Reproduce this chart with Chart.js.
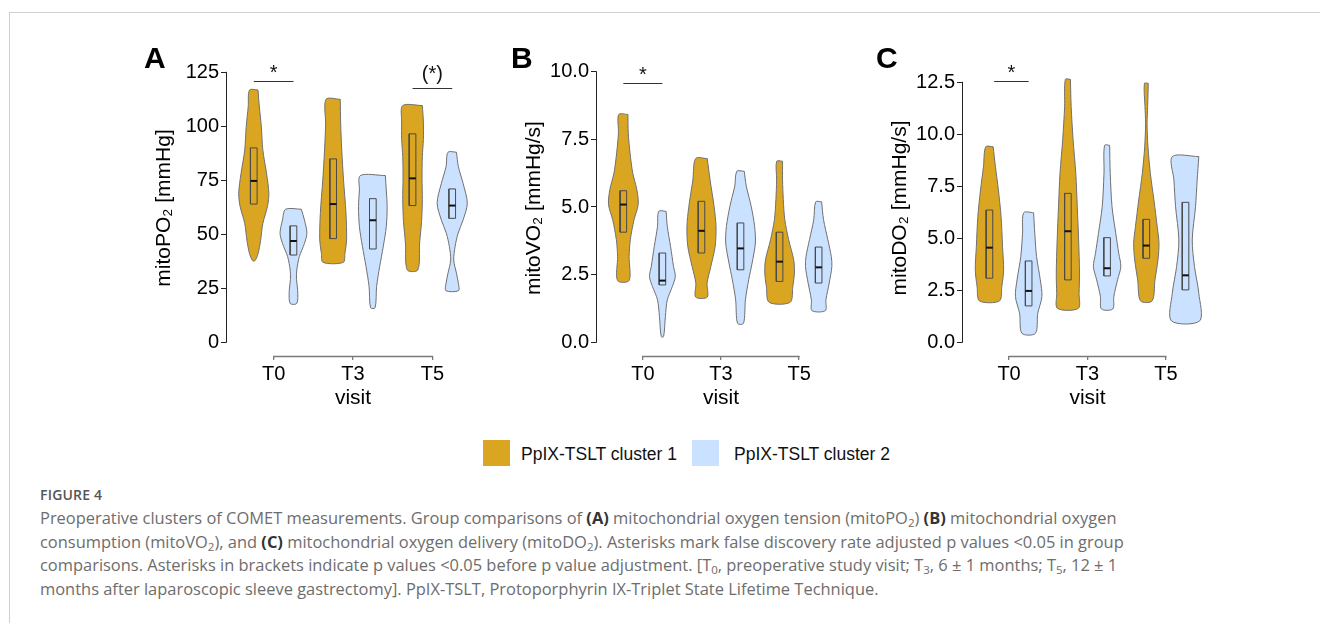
<!DOCTYPE html>
<html>
<head>
<meta charset="utf-8">
<script src="https://cdn.jsdelivr.net/npm/chart.js@4.4.1/dist/chart.umd.min.js"></script>
<style>
html,body{margin:0;padding:0;background:#fff;}
body{width:1320px;height:623px;position:relative;overflow:hidden;font-family:"Liberation Sans",Arial,sans-serif;}
.frame-top{position:absolute;left:9px;top:12px;width:1311px;height:1px;background:#cfcfcf;}
.frame-left{position:absolute;left:9px;top:12px;width:1px;height:611px;background:#cfcfcf;}
.panel{position:absolute;}
.letter{position:absolute;font-weight:bold;font-size:30px;line-height:30px;color:#000;}
.lg-box{position:absolute;width:27px;height:26px;}
.lg-txt{position:absolute;font-size:17.5px;line-height:26px;height:26px;color:#111;white-space:nowrap;}
.cap{position:absolute;left:40px;font-family:"Open Sans",sans-serif;white-space:nowrap;}
.cap-title{font-size:14px;font-weight:600;line-height:20px;color:#555;letter-spacing:0.2px;}
.cap-line{font-size:16.45px;line-height:24px;color:#6d6d6d;}
.cap-line b{color:#333;font-weight:700;}
.cap-line sub{font-size:0.7em;line-height:0;vertical-align:-0.25em;}
</style>
</head>
<body>
<div class="frame-top"></div>
<div class="frame-left"></div>

<canvas id="panelA" class="panel" width="360" height="380" style="left:130px;top:40px;"></canvas>
<canvas id="panelB" class="panel" width="356" height="380" style="left:500px;top:40px;"></canvas>
<canvas id="panelC" class="panel" width="357" height="380" style="left:866px;top:40px;"></canvas>

<div class="letter" style="left:144px;top:43px;">A</div>
<div class="letter" style="left:511px;top:43px;">B</div>
<div class="letter" style="left:876px;top:43px;">C</div>

<div id="legend"></div>

<div class="cap cap-title" style="top:485px;">FIGURE 4</div>
<div class="cap cap-line" style="top:506px;">Preoperative clusters of COMET measurements. Group comparisons of <b>(A)</b> mitochondrial oxygen tension (mitoPO<sub>2</sub>) <b>(B)</b> mitochondrial oxygen</div>
<div class="cap cap-line" style="top:530px;">consumption (mitoVO<sub>2</sub>), and <b>(C)</b> mitochondrial oxygen delivery (mitoDO<sub>2</sub>). Asterisks mark false discovery rate adjusted p values &lt;0.05 in group</div>
<div class="cap cap-line" style="top:553px;">comparisons. Asterisks in brackets indicate p values &lt;0.05 before p value adjustment. [T<sub>0</sub>, preoperative study visit; T<sub>3</sub>, 6 ± 1 months; T<sub>5</sub>, 12 ± 1</div>
<div class="cap cap-line" style="top:577px;">months after laparoscopic sleeve gastrectomy]. PpIX-TSLT, Protoporphyrin IX-Triplet State Lifetime Technique.</div>

<script>
// ---------------- DATA ----------------
const visits = ['T0', 'T3', 'T5'];
const clusters = ['PpIX-TSLT cluster 1', 'PpIX-TSLT cluster 2'];
const clusterColors = ['#DAA520', '#CAE1FF'];

// Panel A: mitoPO2 [mmHg]
const yTicksA = [0, 25, 50, 75, 100, 125];
const yTickLabelsA = ['0', '25', '50', '75', '100', '125'];
// violin outlines: [value, relative half-width]
const violinA_c1_T0 = [[116.8,.28],[109,.37],[100,.5],[89,.6],[78,.85],[69,1.0],[63,.91],[55,.6],[47,.45],[41,.28],[37.8,.08]];
const violinA_c1_T3 = [[112.5,.47],[101,.5],[89,.57],[75,.69],[59.7,.85],[47.4,.89],[41.2,.78],[37,.67]];
const violinA_c1_T5 = [[109.6,.65],[102,.72],[94,.72],[86,.65],[76,.63],[66,.65],[56,.6],[46,.47],[33.5,.35]];
const violinA_c2_T0 = [[61.6,.52],[56.6,.73],[50.5,.89],[45.8,.73],[39.7,.39],[33.5,.22],[29,.2],[24,.28],[18,.22]];
const violinA_c2_T3 = [[77.2,.83],[70.5,.89],[62.8,.95],[53.5,.89],[44.3,.69],[35,.45],[25.8,.25],[16,.15]];
const violinA_c2_T5 = [[88,.28],[81.3,.41],[73.6,.72],[64.4,1.0],[56.6,.72],[50.5,.39],[44.3,.19],[38.1,.1],[32,.28],[27.3,.41],[23.9,.42]];
const q1A_c1 = [64, 48, 63.3],   medA_c1 = [74.7, 64, 75.9],  q3A_c1 = [90, 84.9, 96.5];
const q1A_c2 = [40.4, 43.2, 57.4], medA_c2 = [46.9, 56.5, 63.3], q3A_c2 = [53.9, 66.5, 71];
const sigA_x1 = [0.75, 2.75], sigA_x2 = [1.25, 3.25], sigA_y = [120.6, 117.6], sigA_label = ['*', '(*)'];

// Panel B: mitoVO2 [mmHg/s]
const yTicksB = [0, 2.5, 5, 7.5, 10];
const yTickLabelsB = ['0.0', '2.5', '5.0', '7.5', '10.0'];
const violinB_c1_T0 = [[8.42,.31],[7.74,.33],[7.0,.45],[6.26,.63],[5.64,.91],[5.09,1.0],[4.53,.72],[3.79,.47],[3.17,.39],[2.28,.39]];
const violinB_c1_T3 = [[6.79,.39],[6.0,.58],[5.02,.85],[4.28,.98],[3.54,.92],[2.8,.63],[2.19,.38],[1.67,.39]];
const violinB_c1_T5 = [[6.69,.2],[6.0,.2],[5.27,.25],[4.53,.35],[3.79,.61],[3.05,.95],[2.56,1.0],[2.06,.89],[1.48,.71]];
const violinB_c2_T0 = [[4.84,.25],[4.28,.33],[3.54,.55],[2.8,.75],[2.43,.87],[2.06,.67],[1.57,.33],[0.95,.2],[0.21,.08]];
const violinB_c2_T3 = [[6.32,.25],[5.77,.39],[5.02,.72],[4.28,.95],[3.67,1.0],[2.93,.78],[2.31,.55],[1.57,.33],[0.7,.2]];
const violinB_c2_T5 = [[5.19,.2],[4.53,.33],[3.79,.62],[3.17,.85],[2.8,.89],[2.19,.71],[1.57,.49],[1.17,.45]];
const q1B_c1 = [4.07, 3.3, 2.25], medB_c1 = [5.09, 4.12, 2.98], q3B_c1 = [5.6, 5.21, 4.07];
const q1B_c2 = [2.12, 2.68, 2.19], medB_c2 = [2.28, 3.47, 2.77], q3B_c2 = [3.3, 4.41, 3.52];
const sigB_x1 = [0.75], sigB_x2 = [1.25], sigB_y = [9.57], sigB_label = ['*'];

// Panel C: mitoDO2 [mmHg/s]
const yTicksC = [0, 2.5, 5, 7.5, 10, 12.5];
const yTickLabelsC = ['0.0', '2.5', '5.0', '7.5', '10.0', '12.5'];
const violinC_c1_T0 = [[9.4,.25],[8.45,.4],[7.32,.6],[6.04,.78],[4.6,.88],[3.48,.95],[2.68,.83],[1.99,.67]];
const violinC_c1_T3 = [[12.64,.17],[11.33,.22],[9.73,.35],[8.12,.53],[6.52,.63],[4.92,.72],[3.32,.78],[2.36,.75],[1.63,.7]];
const violinC_c1_T5 = [[12.45,.13],[11.33,.09],[10.53,.05],[9.4,.11],[8.12,.27],[6.84,.51],[5.56,.73],[4.76,.85],[3.96,.78],[3.0,.58],[1.99,.39]];
const violinC_c2_T0 = [[6.23,.33],[5.24,.41],[4.12,.53],[3.0,.78],[2.2,.89],[1.39,.61],[0.43,.45]];
const violinC_c2_T3 = [[9.47,.17],[8.12,.21],[6.52,.33],[5.24,.58],[4.28,.78],[3.64,.92],[3.0,.7],[2.2,.45],[1.6,.38]];
const violinC_c2_T5 = [[8.93,.89],[7.8,.78],[6.52,.67],[4.92,.45],[3.64,.6],[2.36,.89],[1.03,.95]];
const q1C_c1 = [3.08, 3.0, 4.04], medC_c1 = [4.55, 5.34, 4.65], q3C_c1 = [6.36, 7.16, 5.91];
const q1C_c2 = [1.75, 3.19, 2.52], medC_c2 = [2.47, 3.56, 3.22], q3C_c2 = [3.91, 5.03, 6.73];
const sigC_x1 = [0.81], sigC_x2 = [1.25], sigC_y = [12.53], sigC_label = ['*'];

// ---------------- STYLE ----------------
const FONT = '"Liberation Sans", Arial, Helvetica, sans-serif';
Chart.defaults.font.family = FONT;
const groupOffset = 0.25;
const violinHalfMax = 0.19;
const boxHalf = 0.042;

function violinPolygon(profile, center) {
  const right = profile.map(([v, w]) => ({x: center + w * violinHalfMax, y: v}));
  const left = profile.slice().reverse().map(([v, w]) => ({x: center - w * violinHalfMax, y: v}));
  return right.concat(left, [right[0]]);
}

function alignPx(p, w) { return Math.round(p - w / 2) + w / 2; }

const rAxisPlugin = {
  id: 'rAxis',
  afterDraw(chart, args, opts) {
    const {ctx, chartArea, scales: {x, y}} = chart;
    ctx.save();
    // y axis line between first and last tick
    const yx = alignPx(chartArea.left, 1);
    ctx.strokeStyle = '#222';
    ctx.lineWidth = 1;
    ctx.beginPath();
    ctx.moveTo(yx, y.getPixelForValue(opts.yTicks[0]) + 0.5);
    ctx.lineTo(yx, y.getPixelForValue(opts.yTicks[opts.yTicks.length - 1]) - 0.5);
    ctx.stroke();
    // x axis line between first and last tick
    const xy = alignPx(chartArea.bottom, 1);
    ctx.strokeStyle = '#7a7a7a';
    ctx.lineWidth = 1.3;
    ctx.beginPath();
    ctx.moveTo(x.getPixelForValue(1) - 0.5, xy);
    ctx.lineTo(x.getPixelForValue(visits.length) + 0.5, xy);
    ctx.stroke();
    // significance brackets
    ctx.strokeStyle = '#333';
    ctx.lineWidth = 1.2;
    ctx.fillStyle = '#111';
    ctx.font = '20px ' + FONT;
    ctx.textAlign = 'center';
    ctx.textBaseline = 'alphabetic';
    opts.sigY.forEach((v, i) => {
      const py = alignPx(y.getPixelForValue(v), 1);
      const px1 = x.getPixelForValue(opts.sigX1[i]);
      const px2 = x.getPixelForValue(opts.sigX2[i]);
      ctx.beginPath();
      ctx.moveTo(px1, py);
      ctx.lineTo(px2, py);
      ctx.stroke();
      const gap = opts.sigLabel[i].length > 1 ? 8.5 : 3;
      ctx.fillText(opts.sigLabel[i], (px1 + px2) / 2, py - gap);
    });
    ctx.restore();
  }
};

function buildPanel(id, p) {
  const datasets = [];
  for (let c = 0; c < 2; c++) {
    for (let t = 0; t < visits.length; t++) {
      const center = t + 1 + (c === 0 ? -groupOffset : groupOffset);
      datasets.push({
        label: clusters[c] + ' ' + visits[t],
        data: violinPolygon(p.violins[c][t], center),
        showLine: true, fill: 'shape', backgroundColor: clusterColors[c],
        borderColor: '#707070', borderWidth: 1, tension: 0.3,
        pointRadius: 0, pointHoverRadius: 0, order: 3
      });
      const q1 = p.q1[c][t], q3 = p.q3[c][t], md = p.med[c][t];
      datasets.push({
        data: [{x: center - boxHalf, y: q1}, {x: center + boxHalf, y: q1}, {x: center + boxHalf, y: q3},
               {x: center - boxHalf, y: q3}, {x: center - boxHalf, y: q1}],
        showLine: true, fill: false, borderColor: '#4a4a4a', borderWidth: 1, tension: 0,
        pointRadius: 0, pointHoverRadius: 0, order: 2
      });
      datasets.push({
        data: [{x: center - boxHalf, y: md}, {x: center + boxHalf, y: md}],
        showLine: true, fill: false, borderColor: '#111', borderWidth: 2, tension: 0,
        pointRadius: 0, pointHoverRadius: 0, order: 1
      });
    }
  }
  return new Chart(document.getElementById(id), {
    type: 'scatter',
    data: {datasets},
    plugins: [rAxisPlugin],
    options: {
      responsive: false, animation: false, devicePixelRatio: 1, events: [],
      layout: {padding: {left: 0, right: 10, top: 20, bottom: 6}},
      plugins: {
        legend: {display: false}, tooltip: {enabled: false},
        rAxis: {yTicks: p.yTicks, sigX1: p.sigX1, sigX2: p.sigX2, sigY: p.sigY, sigLabel: p.sigLabel}
      },
      scales: {
        x: {
          type: 'linear', min: 0.4, max: 3.6,
          afterBuildTicks: s => { s.ticks = visits.map((_, i) => ({value: i + 1})); },
          afterFit: s => { s.height = 58; },
          ticks: {callback: (v, i) => visits[i], font: {size: 20}, color: '#000', padding: 2, maxRotation: 0, autoSkip: false},
          grid: {display: true, drawOnChartArea: false, drawTicks: true, tickLength: 4, color: '#7a7a7a', lineWidth: 1.3},
          border: {display: false},
          title: {display: true, text: 'visit', font: {size: 21}, color: '#000', padding: {top: 0, bottom: 3}}
        },
        y: {
          type: 'linear', min: p.yMin, max: p.yMax,
          afterBuildTicks: s => { s.ticks = p.yTicks.map(v => ({value: v})); },
          afterFit: s => { s.width = 96; },
          ticks: {callback: (v, i) => p.yTickLabels[i], font: {size: 20}, color: '#000', padding: 2, autoSkip: false},
          grid: {display: true, drawOnChartArea: false, drawTicks: true, tickLength: 5, color: '#222', lineWidth: 1},
          border: {display: false},
          title: {display: true, text: p.yTitle, font: {size: 21}, color: '#000', padding: {top: 22, bottom: 0}}
        }
      }
    }
  });
}

buildPanel('panelA', {
  yTitle: 'mitoPO\u2082 [mmHg]', yMin: -6.34, yMax: 130.69, yTicks: yTicksA, yTickLabels: yTickLabelsA,
  violins: [[violinA_c1_T0, violinA_c1_T3, violinA_c1_T5], [violinA_c2_T0, violinA_c2_T3, violinA_c2_T5]],
  q1: [q1A_c1, q1A_c2], med: [medA_c1, medA_c2], q3: [q3A_c1, q3A_c2],
  sigX1: sigA_x1, sigX2: sigA_x2, sigY: sigA_y, sigLabel: sigA_label
});
buildPanel('panelB', {
  yTitle: 'mitoVO\u2082 [mmHg/s]', yMin: -0.506, yMax: 10.432, yTicks: yTicksB, yTickLabels: yTickLabelsB,
  violins: [[violinB_c1_T0, violinB_c1_T3, violinB_c1_T5], [violinB_c2_T0, violinB_c2_T3, violinB_c2_T5]],
  q1: [q1B_c1, q1B_c2], med: [medB_c1, medB_c2], q3: [q3B_c1, q3B_c2],
  sigX1: sigB_x1, sigX2: sigB_x2, sigY: sigB_y, sigLabel: sigB_label
});
buildPanel('panelC', {
  yTitle: 'mitoDO\u2082 [mmHg/s]', yMin: -0.659, yMax: 13.572, yTicks: yTicksC, yTickLabels: yTickLabelsC,
  violins: [[violinC_c1_T0, violinC_c1_T3, violinC_c1_T5], [violinC_c2_T0, violinC_c2_T3, violinC_c2_T5]],
  q1: [q1C_c1, q1C_c2], med: [medC_c1, medC_c2], q3: [q3C_c1, q3C_c2],
  sigX1: sigC_x1, sigX2: sigC_x2, sigY: sigC_y, sigLabel: sigC_label
});

// legend
const legendPos = [{box: 483, text: 521}, {box: 692, text: 734}];
const legend = document.getElementById('legend');
clusters.forEach((name, i) => {
  const b = document.createElement('div');
  b.className = 'lg-box';
  b.style.left = legendPos[i].box + 'px';
  b.style.top = '440px';
  b.style.background = clusterColors[i];
  legend.appendChild(b);
  const t = document.createElement('div');
  t.className = 'lg-txt';
  t.style.left = legendPos[i].text + 'px';
  t.style.top = '441px';
  t.textContent = name;
  legend.appendChild(t);
});
</script>
</body>
</html>
